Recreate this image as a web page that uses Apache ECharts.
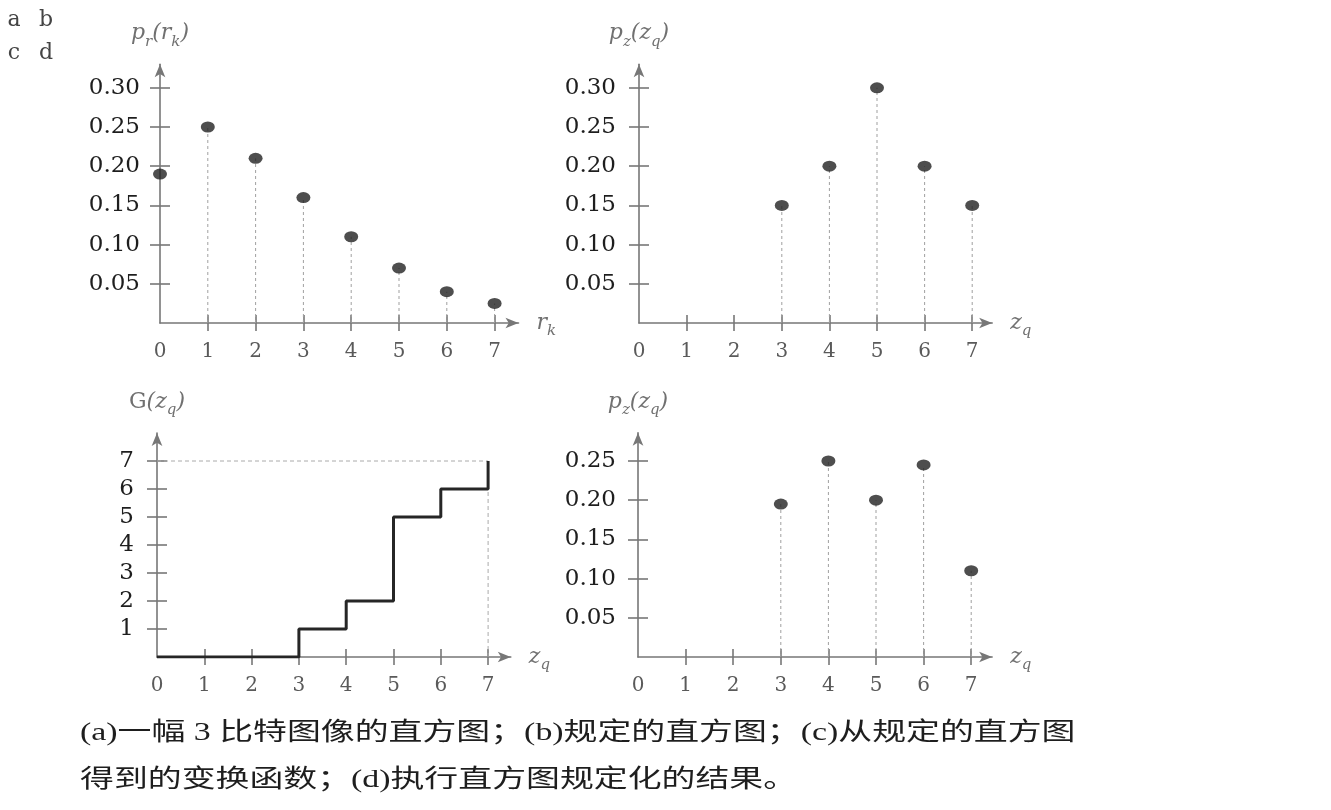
<!DOCTYPE html>
<html><head><meta charset="utf-8">
<script src="https://cdn.jsdelivr.net/npm/echarts@6/dist/echarts.min.js"></script>
<style>html,body{margin:0;padding:0;background:#fff}#c{width:1331px;height:810px}</style>
</head><body><div id="c"></div>
<script>
// ---- data ----
const levels = [0, 1, 2, 3, 4, 5, 6, 7];
const prValues = [0.19, 0.25, 0.21, 0.16, 0.11, 0.07, 0.04, 0.025];      // (a)
const pzSpecified = [0, 0, 0, 0.15, 0.20, 0.30, 0.20, 0.15];            // (b)
const gValues = [0, 0, 0, 1, 2, 5, 6, 7];                                // (c)
const pzResult = [0, 0, 0, 0.195, 0.25, 0.20, 0.245, 0.11];             // (d)
const xTickValues = [1, 2, 3, 4, 5, 6, 7];
const xLabelValues = [0, 1, 2, 3, 4, 5, 6, 7];
const probTicksAB = [0.05, 0.10, 0.15, 0.20, 0.25, 0.30];
const probTicksD = [0.05, 0.10, 0.15, 0.20, 0.25];
const gTicks = [1, 2, 3, 4, 5, 6, 7];
const panelLetters = [['a', 'b'], ['c', 'd']];
const captionLines = ['(a)一幅 3 比特图像的直方图；(b)规定的直方图；(c)从规定的直方图',
                      '得到的变换函数；(d)执行直方图规定化的结果。'];
const yNames = ['{i|p}{s|r}{i|(r}{s|k}{i|)}', '{i|p}{s|z}{i|(z}{s|q}{i|)}',
                '{g|G}{i|(z}{s|q}{i|)}', '{i|p}{s|z}{i|(z}{s|q}{i|)}'];
const xNames = ['{i|r}{s|k}', '{i|z}{s|q}', '{i|z}{s|q}', '{i|z}{s|q}'];

// ---- layout ----
const panels = [
  {left: 160, bottom: 323, ux: 47.8, uy: 784, xmax: 7.5,  ymax: 0.33, yticks: probTicksAB, yInt: 0.05, ymargin: 20, fmt: v => v.toFixed(2)},
  {left: 639, bottom: 323, ux: 47.6, uy: 784, xmax: 7.42, ymax: 0.33, yticks: probTicksAB, yInt: 0.05, ymargin: 23, fmt: v => v.toFixed(2)},
  {left: 157, bottom: 657, ux: 47.3, uy: 28,  xmax: 7.48, ymax: 8.0,  yticks: gTicks,     yInt: 1,    ymargin: 23, fmt: v => String(v)},
  {left: 638, bottom: 657, ux: 47.6, uy: 784, xmax: 7.44, ymax: 0.286, yticks: probTicksD, yInt: 0.05, ymargin: 22, fmt: v => v.toFixed(2)}
];

const axisColor = '#777';
const rich = {
  i: {fontFamily: 'DejaVu Serif', fontStyle: 'italic', fontSize: 22, color: '#707070'},
  g: {fontFamily: 'DejaVu Serif', fontSize: 22, color: '#707070'},
  s: {fontFamily: 'DejaVu Serif', fontStyle: 'italic', fontSize: 15, color: '#707070', padding: [16, 0, 0, 0]}
};

const grid = [], xAxis = [], yAxis = [], series = [];
panels.forEach((p, gi) => {
  const h = p.ymax * p.uy;
  grid.push({left: p.left, top: p.bottom - h, width: p.xmax * p.ux, height: h});
  xAxis.push({
    type: 'value', gridIndex: gi, min: 0, max: p.xmax, interval: 1, position: 'bottom',
    axisLine: {show: true, onZero: false, lineStyle: {color: axisColor, width: 1.6}, symbol: ['none', 'arrow'], symbolSize: [8, 13]},
    axisTick: {show: true, inside: false, length: 8, customValues: xTickValues, lineStyle: {color: axisColor, width: 1.6}},
    axisLabel: {show: true, customValues: xLabelValues, margin: 19, fontFamily: 'DejaVu Serif', fontSize: 20, color: '#5a5a5a'},
    splitLine: {show: false},
    name: xNames[gi], nameLocation: 'end', nameGap: 18, nameTextStyle: {rich: rich}
  });
  xAxis.push({
    type: 'value', gridIndex: gi, min: 0, max: p.xmax, interval: 1, position: 'bottom',
    axisLine: {show: false}, axisLabel: {show: false}, splitLine: {show: false},
    axisTick: {show: true, inside: true, length: 8, customValues: xTickValues, lineStyle: {color: axisColor, width: 1.6}}
  });
  yAxis.push({
    type: 'value', gridIndex: gi, min: 0, max: p.ymax, interval: p.yInt, position: 'left',
    axisLine: {show: true, onZero: false, lineStyle: {color: axisColor, width: 1.6}, symbol: ['none', 'arrow'], symbolSize: [8, 13]},
    axisTick: {show: true, inside: false, length: 10, customValues: p.yticks, lineStyle: {color: axisColor, width: 1.6}},
    axisLabel: {show: true, customValues: p.yticks, margin: p.ymargin, formatter: p.fmt, fontFamily: 'DejaVu Serif', fontSize: 23, color: '#1e1e1e'},
    splitLine: {show: false},
    name: yNames[gi], nameLocation: 'end', nameGap: 15, nameTextStyle: {rich: rich, align: 'center'}
  });
  yAxis.push({
    type: 'value', gridIndex: gi, min: 0, max: p.ymax, interval: p.yInt, position: 'left',
    axisLine: {show: false}, axisLabel: {show: false}, splitLine: {show: false},
    axisTick: {show: true, inside: true, length: 10, customValues: p.yticks, lineStyle: {color: axisColor, width: 1.6}}
  });
});

function stemSeries(gi, vals) {
  return {
    type: 'custom', xAxisIndex: gi * 2, yAxisIndex: gi * 2, silent: true, z: 2,
    data: levels.map((x, i) => [x, vals[i]]).filter(d => d[0] > 0 && d[1] > 0),
    renderItem: (params, api) => {
      const p0 = api.coord([api.value(0), 0]);
      const p1 = api.coord([api.value(0), api.value(1)]);
      return {type: 'line', shape: {x1: p0[0], y1: p0[1], x2: p1[0], y2: p1[1]},
              style: {stroke: '#a0a0a0', lineWidth: 1, lineDash: [3, 3]}};
    }
  };
}
function dotSeries(gi, vals) {
  return {
    type: 'scatter', xAxisIndex: gi * 2, yAxisIndex: gi * 2, silent: true, z: 5,
    symbol: 'circle', symbolSize: [14, 11], itemStyle: {color: '#222'},
    data: levels.map((x, i) => [x, vals[i]]).filter(d => d[1] > 0)
  };
}
series.push(stemSeries(0, prValues), dotSeries(0, prValues));
series.push(stemSeries(1, pzSpecified), dotSeries(1, pzSpecified));
series.push(stemSeries(3, pzResult), dotSeries(3, pzResult));

// (c) transformation function
const last = levels.length - 1;
series.push({
  type: 'line', xAxisIndex: 4, yAxisIndex: 4, step: 'end', showSymbol: false, silent: true, z: 4,
  lineStyle: {color: '#262626', width: 3},
  data: levels.map((x, i) => [x, gValues[i]])
});
series.push({
  type: 'line', xAxisIndex: 4, yAxisIndex: 4, showSymbol: false, silent: true, z: 3,
  lineStyle: {color: '#aaa', width: 1, type: [4, 3]},
  data: [[0, gValues[last]], [levels[last], gValues[last]]]
});
series.push({
  type: 'line', xAxisIndex: 4, yAxisIndex: 4, showSymbol: false, silent: true, z: 3,
  lineStyle: {color: '#aaa', width: 1, type: [4, 3]},
  data: [[levels[last], 0], [levels[last], gValues[last - 1]]]
});

// ---- extra text ----
const graphic = [];
const letterPos = [[[14, 20], [46, 20]], [[14, 53], [46, 53]]];
panelLetters.forEach((row, r) => row.forEach((t, c) => {
  graphic.push({type: 'text', x: letterPos[r][c][0], y: letterPos[r][c][1],
    style: {text: t, fontFamily: 'DejaVu Serif', fontSize: 22, fill: '#444', align: 'center', verticalAlign: 'middle'}});
}));
const capY = [733, 780];
captionLines.forEach((t, i) => {
  graphic.push({type: 'text', x: 80, y: capY[i], scaleX: 1.355,
    style: {text: t, fontFamily: '"Liberation Serif", "Noto Sans CJK SC"', fontSize: 25, fill: '#1e1e1e', align: 'left', verticalAlign: 'middle'}});
});

const chart = echarts.init(document.getElementById('c'), null, {renderer: 'canvas'});
chart.setOption({animation: false, backgroundColor: '#fff', grid, xAxis, yAxis, series, graphic});
</script>
</body></html>
